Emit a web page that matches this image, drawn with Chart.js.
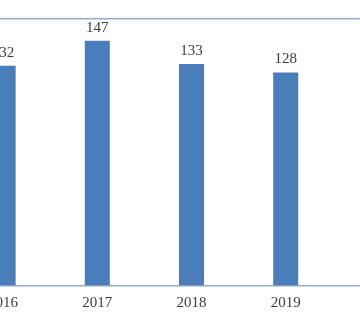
<!DOCTYPE html>
<html>
<head>
<meta charset="utf-8">
<script src="https://cdn.jsdelivr.net/npm/chart.js@4"></script>
<style>
  html, body { margin: 0; padding: 0; background: #fff; }
  #wrap { position: relative; width: 360px; height: 315px; overflow: hidden; }
  #box { position: absolute; left: -44px; top: 0; width: 471px; height: 325px; }
</style>
</head>
<body>
<div id="wrap"><div id="box"><canvas id="myChart"></canvas></div></div>
<script>
// years shown (the frame is cut off at both sides, the last one is outside)
const years = ["2016", "2017", "2018", "2019", "2020"];
const counts = [132, 147, 133, 128, null];
const yMax = 160;

const barColor = "#4a7ebb";
const lineColor = "#93abc9";
const textColor = "#3d3d3d";
const serif = "'Liberation Serif', 'Times New Roman', serif";

// numbers on top of the bars
const valueLabels = {
  id: "valueLabels",
  afterDatasetsDraw(chart) {
    const ctx = chart.ctx;
    const meta = chart.getDatasetMeta(0);
    ctx.save();
    ctx.font = "15px " + serif;
    ctx.fillStyle = textColor;
    ctx.textAlign = "center";
    ctx.textBaseline = "alphabetic";
    meta.data.forEach((bar, i) => {
      if (counts[i] == null) return;
      ctx.fillText(String(counts[i]), bar.x, bar.y - 9);
    });
    ctx.restore();
  },
};

const ctx = document.getElementById("myChart").getContext("2d");
const myChart = new Chart(ctx, {
  type: "bar",
  data: {
    labels: years,
    datasets: [
      {
        data: counts,
        backgroundColor: barColor,
        borderWidth: 0,
        categoryPercentage: 1,
        barPercentage: 0.266,
      },
    ],
  },
  options: {
    responsive: true,
    maintainAspectRatio: false,
    animation: false,
    layout: { padding: { top: 19, bottom: 5, left: 0, right: 0 } },
    plugins: {
      legend: { display: false },
      tooltip: { enabled: false },
    },
    scales: {
      x: {
        grid: { display: true, color: "transparent", drawTicks: false },
        border: { display: true, color: lineColor, width: 1.5 },
        ticks: {
          color: textColor,
          padding: 8,
          font: { family: serif, size: 15 },
        },
      },
      y: {
        min: 0,
        max: yMax,
        ticks: { display: false, stepSize: yMax },
        grid: {
          drawTicks: false,
          lineWidth: 1.5,
          color: (c) => (c.tick && c.tick.value === yMax ? lineColor : "transparent"),
        },
        border: { display: false },
      },
    },
  },
  plugins: [valueLabels],
});
</script>
</body>
</html>
